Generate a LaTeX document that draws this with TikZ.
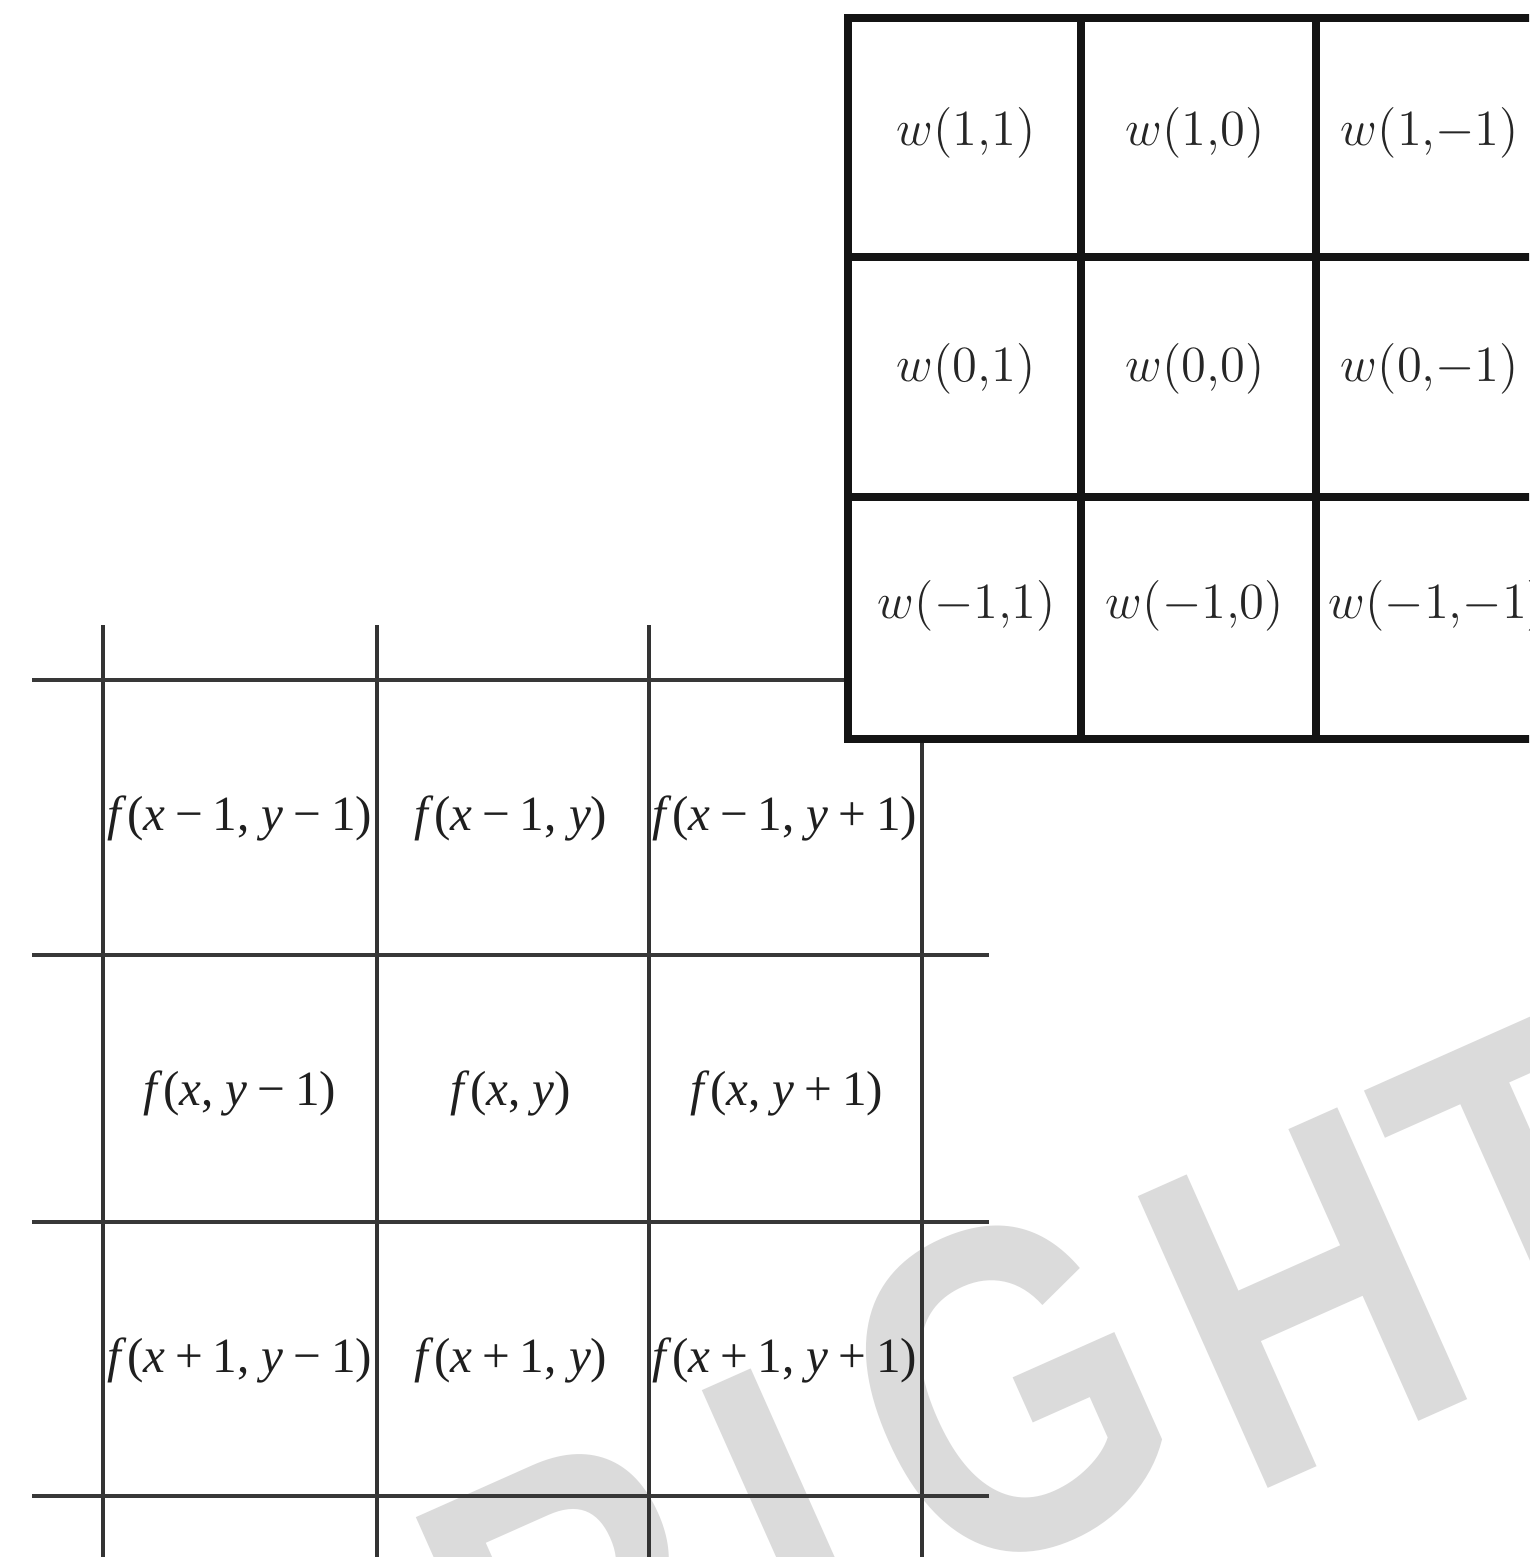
\documentclass[tikz,border=0pt]{standalone}
\usepackage{fontspec}
\usepackage{graphicx}
\newfontfamily\tms{Liberation Serif}
\newfontfamily\wmfont{Liberation Sans}
\newcommand\vi[1]{\textit{#1}}
\newcommand\mmi{\hspace{0.2em}−\hspace{0.2em}}
\newcommand\mpl{\hspace{0.2em}+\hspace{0.2em}}
\begin{document}
\begin{tikzpicture}[x=0.01cm,y=-0.01cm]
\tikzset{
 fvline/.style={line width=0.032cm, draw=black!80},
 fhline/.style={line width=0.045cm, draw=black!78},
 wline/.style={line width=0.085cm, draw=black!92},
 wlab/.style={inner sep=0pt, font=\fontsize{13.6}{16}\selectfont, text=black!85},
 flab/.style={inner sep=0pt, font=\tms\fontsize{14}{16}\selectfont, text=black!88},
 wmark/.style={inner sep=0pt, anchor=base west, rotate=24, text=black!14,
   font=\wmfont\bfseries\fontsize{132}{140}\selectfont},
}
\useasboundingbox (0,0) rectangle (1529,1557);
\clip (0,0) rectangle (1529,1557);
\fill[white] (0,0) rectangle (1529,1557);
% watermark
\node[wmark] (wmR) at (523,1820) {\scalebox{0.8}[1]{R}};
\node[wmark] (wmI) at (809,1693) {\scalebox{0.8}[1]{I}};
\node[wmark] (wmG) at (940,1595) {\scalebox{0.8}[1]{G}};
\node[wmark] (wmH) at (1245,1499) {\scalebox{0.8}[1]{H}};
\node[wmark] (wmT) at (1490,1385) {\scalebox{0.8}[1]{T}};
% f grid
\foreach \x in {103,377,649} \draw[fvline] (\x,625) -- (\x,1557);
\draw[fvline] (922,742) -- (922,1557);
\draw[fhline] (32,680) -- (848,680);
\foreach \y in {955,1222,1496} \draw[fhline] (32,\y) -- (989,\y);
% w grid
\filldraw[wline, fill=white] (848,18) rectangle (1550,739);
\draw[wline] (1081,18) -- (1081,739);
\draw[wline] (1316,18) -- (1316,739);
\draw[wline] (848,257) -- (1550,257);
\draw[wline] (848,497) -- (1550,497);
% w labels
\node[wlab] (w11) at (966,133) {$w(1{,}1)$};
\node[wlab] (w10) at (1195,133) {$w(1{,}0)$};
\node[wlab] (w1m) at (1430,133) {$w(1{,}{-1})$};
\node[wlab] (w01) at (966,369) {$w(0{,}1)$};
\node[wlab] (w00) at (1195,369) {$w(0{,}0)$};
\node[wlab] (w0m) at (1430,369) {$w(0{,}{-1})$};
\node[wlab] (wm1) at (967,606) {$w(-1{,}1)$};
\node[wlab] (wm0) at (1195,606) {$w(-1{,}0)$};
\node[wlab, anchor=west] (wmm) at (1328,606) {$w(-1{,}{-1})$};
% f labels
\node[flab] (f11) at (240,818) {\vi{f}(\vi{x}\mmi 1, \vi{y}\mmi 1)};
\node[flab] (f12) at (511,818) {\vi{f}(\vi{x}\mmi 1, \vi{y})};
\node[flab] (f13) at (785,818) {\vi{f}(\vi{x}\mmi 1, \vi{y}\mpl 1)};
\node[flab] (f21) at (240,1093) {\vi{f}(\vi{x}, \vi{y}\mmi 1)};
\node[flab] (f22) at (511,1093) {\vi{f}(\vi{x}, \vi{y})};
\node[flab] (f23) at (787,1093) {\vi{f}(\vi{x}, \vi{y}\mpl 1)};
\node[flab] (f31) at (240,1360) {\vi{f}(\vi{x}\mpl 1, \vi{y}\mmi 1)};
\node[flab] (f32) at (511,1360) {\vi{f}(\vi{x}\mpl 1, \vi{y})};
\node[flab] (f33) at (785,1360) {\vi{f}(\vi{x}\mpl 1, \vi{y}\mpl 1)};
\end{tikzpicture}
\end{document}
